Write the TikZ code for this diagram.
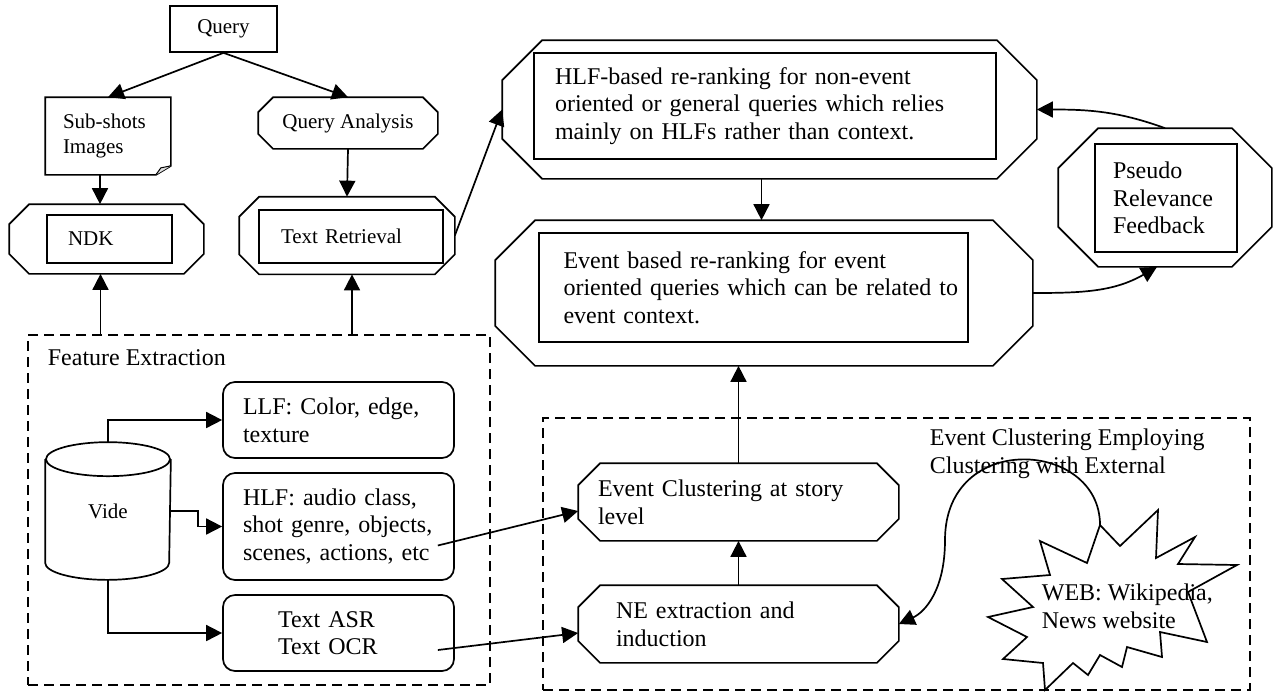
\documentclass[tikz,border=0pt]{standalone}
\usepackage{fontspec}
\setmainfont{Liberation Serif}
\usetikzlibrary{arrows.meta,calc}

\begin{document}
\begin{tikzpicture}
  [x=0.5pt,y=-0.5pt,line width=0.85pt,>={Triangle[length=8pt,width=8pt]},
   every node/.style={inner sep=0pt,font=\fontsize{12}{13.8}\selectfont},
   small/.style={font=\fontsize{10.5}{12.5}\selectfont},
   box/.style={draw},
   rbox/.style={draw,rounded corners=6pt},
   frame/.style={draw,dash pattern=on 5pt off 3pt}]

  \useasboundingbox (0,0) rectangle (1273,692);

  % query part
  \node[box,small,minimum width=53.5pt,minimum height=23pt] (query) at (223.5,29) {Query};
  \node[small,minimum width=62pt,minimum height=38pt,text width=45pt,align=left] (subshots) at (108,136) {Sub-shots\\Images};
  \node[small,minimum width=89pt,minimum height=25pt] (qa) at (348,123) {Query Analysis};
  \node[minimum width=96.5pt,minimum height=34pt] (ndkout) at (106.5,239) {};
  \node[box,small,minimum width=62.5pt,minimum height=24pt,text width=41.5pt,align=left] (ndk) at (109.5,239) {NDK};
  \node[minimum width=107pt,minimum height=38pt] (trout) at (347,235.5) {};
  \node[box,small,minimum width=92pt,minimum height=26.5pt,text width=70pt,align=left] (trin) at (351,236.5) {Text Retrieval};

  % re-ranking
  \node[minimum width=266.5pt,minimum height=68.5pt] (hlfout) at (769.5,109.5) {};
  \node[box,minimum width=231pt,minimum height=53pt,text width=210pt,align=left] (hlfin) at (765,106)
    {HLF-based re-ranking for non-event\\oriented or general queries which relies\\mainly on HLFs rather than context.};
  \node[minimum width=268pt,minimum height=72pt] (evout) at (764,293) {};
  \node[box,minimum width=214.5pt,minimum height=54.5pt,text width=190pt,align=left] (evin) at (753.5,287.5)
    {Event based re-ranking for event\\\mbox{oriented queries which can be related to}\\event context.};
  \node[minimum width=106pt,minimum height=68.5pt] (prfout) at (1165,197.5) {};
  \node[box,minimum width=71pt,minimum height=54pt,text width=53pt,align=left] (prfin) at (1166,198) {Pseudo\\Relevance\\Feedback};

  % feature extraction
  \node[frame,minimum width=231pt,minimum height=175pt] (febox) at (259,510) {};
  \node[anchor=west] (felabel) at (47,358) {Feature Extraction};
  \node[small,minimum width=62pt,minimum height=68pt] (vide) at (108,511) {Vide};
  \node[rbox,minimum width=115.5pt,minimum height=38pt,text width=95.5pt,align=left] (llf) at (338.5,420) {LLF: Color, edge,\\texture};
  \node[rbox,minimum width=115.5pt,minimum height=53.5pt,text width=95.5pt,align=left] (hlf) at (338.5,526.5) {HLF: audio class,\\shot genre, objects,\\scenes, actions, etc};
  \node[rbox,minimum width=115.5pt,minimum height=38pt,text width=60.5pt,align=left] (txt) at (338.5,633) {Text ASR\\Text OCR};

  % event clustering
  \node[frame,minimum width=353.5pt,minimum height=136pt] (ecbox) at (896.5,554) {};
  \node[anchor=west,align=left] (eclabel) at (929,454) {Event Clustering Employing\\Clustering with External};
  \node[minimum width=159.5pt,minimum height=38pt,text width=140.5pt,align=left] (ecs) at (738.5,502) {Event Clustering at story\\level};
  \node[minimum width=159.5pt,minimum height=38pt,text width=122.5pt,align=left] (nee) at (738.5,624) {NE extraction and\\induction};
  \coordinate (webtip) at (1100,525);
  \draw (webtip) -- (1120,546) -- (1158,510) -- (1156,558) -- (1195,537) -- (1178,564) -- (1237,565)
    -- (1188,592) -- (1207,642) -- (1160,632) -- (1162,657) -- (1127,647) -- (1122,667) -- (1100,655)
    -- (1088,675) -- (1073,663) -- (1045,690) -- (1043,663) -- (1003,659) -- (1027,637) -- (988,617)
    -- (1033,607) -- (1002,579) -- (1050,575) -- (1040,541) -- (1087,563) -- cycle;
  \node[anchor=west,align=left] (web) at (1041,606) {WEB: Wikipedia,\\News website};

  % octagons
  \foreach \n/\c in {qa/15,ndkout/20,trout/20,hlfout/40,evout/40,prfout/40,ecs/22,nee/22}
    \draw ($(\n.north west)+(\c,0)$) -- ($(\n.north east)+(-\c,0)$) -- ($(\n.north east)+(0,\c)$)
      -- ($(\n.south east)+(0,-\c)$) -- ($(\n.south east)+(-\c,0)$) -- ($(\n.south west)+(\c,0)$)
      -- ($(\n.south west)+(0,-\c)$) -- ($(\n.north west)+(0,\c)$) -- cycle;

  % sub-shots document and video cylinder
  \draw (subshots.north west) -- (subshots.north east) -- ($(subshots.south east)+(0,-9)$)
    -- ($(subshots.south east)+(-15,0)$) -- (subshots.south west) -- cycle;
  \draw[fill=gray!25,line width=0.5pt] ($(subshots.south east)+(0,-9)$) -- ($(subshots.south east)+(-10,-7)$)
    -- ($(subshots.south east)+(-15,0)$);
  \draw ($(vide.north west)+(0,17)$) -- ($(vide.south west)+(0,-17)$)
    arc[start angle=180,end angle=360,x radius=31pt,y radius=8.5pt] -- ($(vide.north east)+(0,17)$);
  \draw ($(vide.north)+(0,17)$) ellipse [x radius=31pt,y radius=8.5pt];

  % connectors
  \foreach \from/\to in {query.south/subshots.north,query.south/qa.north,qa.south/trout.north,
                         trout.east/hlfout.west,nee.north/ecs.south}
    \draw[->] (\from) -- (\to);
  \draw[->] ($(subshots.south)+(-8,0)$) -- ($(subshots.south |- ndkout.north)+(-8,0)$);
  \draw[->] ($(ndkout.south |- febox.north)+(-6,0)$) -- ($(ndkout.south)+(-6,0)$);
  \draw[->] ($(trout.south |- febox.north)+(5,0)$) -- ($(trout.south)+(5,0)$);
  \draw[->] ($(hlfout.south)+(-8,0)$) -- ($(hlfout.south |- evout.north)+(-8,0)$);
  \draw[->] (ecs.north) -- (ecs.north |- evout.south);
  \draw[->] (prfout.north) to[out=160,in=0] (hlfout.east);
  \draw[->] (evout.east) to[out=0,in=210] ($(prfout.south)+(-8,0)$);
  \draw[->] (vide.north) |- (llf.west);
  \draw[->] (vide.east) -- ++(27,0) |- (hlf.west);
  \draw[->] (vide.south) |- (txt.west);
  \draw[->] ($(hlf.east)+(-17,19)$) -- ($(ecs.west)+(0,9)$);
  \draw[->] ($(txt.east)+(-17,17)$) -- ($(nee.west)+(0,9)$);
  \draw[->] (webtip) .. controls (1100,440) and (945,430) .. (945,540)
    .. controls (945,590) and (925,612) .. (nee.east);
\end{tikzpicture}
\end{document}
